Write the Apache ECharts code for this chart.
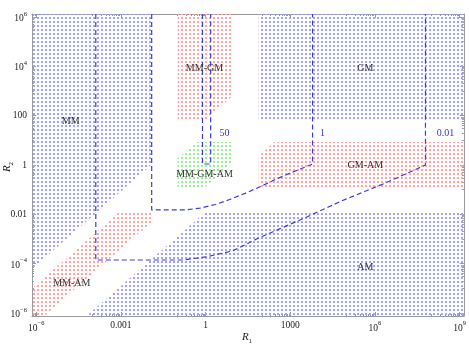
<!DOCTYPE html>
<html><head><meta charset="utf-8">
<script src="https://cdn.jsdelivr.net/npm/echarts@6/dist/echarts.min.js"></script>
<style>html,body{margin:0;padding:0;background:#fff}#c{width:469px;height:344px}</style>
</head><body><div id="c"></div>
<script>
// All coordinates are log10 values: u = log10(R1), v = log10(R2)
const xRange = [-6.15, 9.15];
const yRange = [-6.12, 6.12];
const xMajor = [-6, -3, 0, 3, 6, 9];
const xTickLabels = ['{b|10}{s|\u22126}', '0.001', '1', '1000', '{b|10}{s|6}', '{b|10}{s|9}'];
const yMajor = [-6, -4, -2, 0, 2, 4, 6];
const yTickLabels = ['{b|10}{s|\u22126}', '{b|10}{s|\u22124}', '0.01', '1', '100', '{b|10}{s|4}', '{b|10}{s|6}'];
const minorMultipliers = [1, 2, 3, 4, 5, 6, 7, 8, 9];

// regions (polygon vertices, log10 R1, log10 R2)
const regionMM     = [[-6.15,6.12],[-1.88,6.12],[-1.88,0.05],[-6.15,-4.22]];
const regionMMGM   = [[-0.99,6.12],[0.96,6.12],[0.96,2.8],[0.0,1.82],[-0.99,1.82]];
const regionGM     = [[1.88,6.12],[9.15,6.12],[9.15,1.82],[1.88,1.82]];
const regionMMGMAM = [[-0.33,0.93],[0.92,0.93],[0.92,0.05],[-0.06,-0.93],[-0.99,-0.93],[-0.99,0.27]];
const regionGMAM   = [[2.44,0.93],[9.15,0.93],[9.15,-0.93],[1.88,-0.93],[1.88,0.37]];
const regionMMAM   = [[-3.01,-1.86],[-1.88,-1.86],[-1.88,-2.28],[-5.72,-6.12],[-6.15,-6.12],[-6.15,-5.0]];
const regionAM     = [[0.04,-1.86],[9.15,-1.86],[9.15,-6.12],[-4.22,-6.12]];

// contour curves
const contour50  = [[-0.11,6.12],[-0.11,0.04],[0.18,0.04],[0.18,6.12]];
const contour1   = [[-1.91,6.12],[-1.91,-1.82],[-0.74,-1.82],[-0.2,-1.75],[0.35,-1.6],[0.85,-1.4],[1.4,-1.15],[1.91,-0.89],[2.45,-0.6],[2.97,-0.34],[3.4,-0.14],[3.79,0.04],[3.79,6.12]];
const contour001 = [[-3.89,6.12],[-3.89,-3.85],[-0.81,-3.85],[0.04,-3.72],[0.96,-3.48],[1.81,-3.0],[2.62,-2.59],[3.58,-2.11],[4.81,-1.46],[6.37,-0.73],[7.79,0.0],[7.79,6.12]];

// labels
const regionLabelText = ['MM', 'MM-GM', 'GM', 'MM-GM-AM', 'GM-AM', 'AM', 'MM-AM'];
const regionLabelPos  = [[-4.78,1.78],[-0.04,3.93],[5.66,3.93],[-0.04,-0.40],[5.66,0.0],[5.66,-4.13],[-4.74,-4.78]];
const contourLabelText = ['50', '1', '0.01'];
const contourLabelPos  = [[0.67,1.30],[4.14,1.30],[8.50,1.30]];

const FONT = "'Liberation Serif','Times New Roman',serif";
const TXT = '#222';
const FRAME = '#9a9a9a';
const LINE = '#3c3cdc';

function dotPattern(color) {
  const c = document.createElement('canvas');
  c.width = 4; c.height = 4;
  const ctx = c.getContext('2d');
  ctx.fillStyle = color;
  ctx.fillRect(1, 1, 2, 2);
  return { image: c, repeat: 'repeat' };
}
const patterns = {
  blue: dotPattern('#a2a2ff'),
  red: dotPattern('#ffa4a4'),
  green: dotPattern('#96f096')
};
const regions = [
  { pts: regionMM, color: 'blue' },
  { pts: regionMMGM, color: 'red' },
  { pts: regionGM, color: 'blue' },
  { pts: regionMMGMAM, color: 'green' },
  { pts: regionGMAM, color: 'red' },
  { pts: regionMMAM, color: 'red' },
  { pts: regionAM, color: 'blue' }
];

function minorTicks(majors, range) {
  const out = [];
  majors.forEach(m => minorMultipliers.forEach(k => {
    const t = m - 1 + Math.log10(k);
    if (t >= range[0] && t <= range[1]) out.push(t);
  }));
  return out;
}
const xMinor = minorTicks(xMajor, xRange);
const yMinor = minorTicks(yMajor, yRange);

const rich = {
  b: { fontSize: 9.5, fontFamily: FONT, color: TXT, lineHeight: 13, verticalAlign: 'bottom' },
  s: { fontSize: 6.5, fontFamily: FONT, color: TXT, lineHeight: 6, verticalAlign: 'top' }
};
function fmt(majors, labels) {
  return v => {
    const i = majors.findIndex(e => Math.abs(e - v) < 1e-9);
    return i >= 0 ? labels[i] : '';
  };
}
function mkAxis(dir, pos, majors, minors, range, labels, isMajor) {
  const a = {
    type: 'value', min: range[0], max: range[1], position: pos,
    splitLine: { show: false },
    axisLine: { show: isMajor, onZero: false, lineStyle: { color: FRAME, width: 1 } },
    axisTick: { show: true, inside: true, length: isMajor ? 4 : 2, customValues: isMajor ? majors : minors, lineStyle: { color: FRAME, width: 1 } },
    axisLabel: { show: false }
  };
  if (labels) {
    a.axisLabel = {
      show: true, customValues: majors, formatter: fmt(majors, labels),
      fontSize: 9.5, fontFamily: FONT, color: TXT, rich: rich, margin: dir === 'x' ? 4 : 5
    };
  }
  return a;
}

const chart = echarts.init(document.getElementById('c'), null, { renderer: 'canvas' });
chart.setOption({
  animation: false,
  grid: { left: 32, right: 5, top: 14, bottom: 28, containLabel: false },
  xAxis: [
    mkAxis('x', 'bottom', xMajor, xMinor, xRange, xTickLabels, true),
    mkAxis('x', 'bottom', xMajor, xMinor, xRange, null, false),
    mkAxis('x', 'top', xMajor, xMinor, xRange, null, true),
    mkAxis('x', 'top', xMajor, xMinor, xRange, null, false)
  ],
  yAxis: [
    mkAxis('y', 'left', yMajor, yMinor, yRange, yTickLabels, true),
    mkAxis('y', 'left', yMajor, yMinor, yRange, null, false),
    mkAxis('y', 'right', yMajor, yMinor, yRange, null, true),
    mkAxis('y', 'right', yMajor, yMinor, yRange, null, false)
  ],
  graphic: [
    { type: 'text', x: 247, y: 338, style: { text: '{i|R}{sub|1}', align: 'center', verticalAlign: 'middle',
      rich: { i: { fontSize: 11, fontStyle: 'italic', fontFamily: FONT, fill: TXT, lineHeight: 13, verticalAlign: 'top' },
              sub: { fontSize: 7, fontFamily: FONT, fill: TXT, lineHeight: 6, verticalAlign: 'bottom' } } } },
    { type: 'text', x: 8, y: 167, rotation: Math.PI / 2, style: { text: '{i|R}{sub|2}', align: 'center', verticalAlign: 'middle',
      rich: { i: { fontSize: 11, fontStyle: 'italic', fontFamily: FONT, fill: TXT, lineHeight: 13, verticalAlign: 'top' },
              sub: { fontSize: 7, fontFamily: FONT, fill: TXT, lineHeight: 6, verticalAlign: 'bottom' } } } }
  ],
  series: [
    {
      type: 'custom', xAxisIndex: 0, yAxisIndex: 0, clip: true, silent: true, z: 1,
      data: regions.map((r, i) => [i, 0]),
      renderItem: (params, api) => {
        const r = regions[params.dataIndex];
        return { type: 'polygon', shape: { points: r.pts.map(p => api.coord(p)) }, style: { fill: patterns[r.color] } };
      }
    },
    ...[contour50, contour1, contour001].map(c => ({
      type: 'line', xAxisIndex: 0, yAxisIndex: 0, data: c, showSymbol: false, symbol: 'none', silent: true, z: 3,
      clip: true, lineStyle: { color: LINE, width: 1.2, type: [5, 3] }
    })),
    {
      type: 'custom', xAxisIndex: 0, yAxisIndex: 0, silent: true, z: 5,
      data: regionLabelPos.map((p, i) => [p[0], p[1], i]),
      renderItem: (params, api) => {
        const pt = api.coord([api.value(0), api.value(1)]);
        return { type: 'text', x: pt[0], y: pt[1], style: { text: regionLabelText[api.value(2)], fill: '#333', font: '10px ' + FONT, align: 'center', verticalAlign: 'middle' } };
      }
    },
    {
      type: 'custom', xAxisIndex: 0, yAxisIndex: 0, silent: true, z: 5,
      data: contourLabelPos.map((p, i) => [p[0], p[1], i]),
      renderItem: (params, api) => {
        const pt = api.coord([api.value(0), api.value(1)]);
        return { type: 'text', x: pt[0], y: pt[1], style: { text: contourLabelText[api.value(2)], fill: '#3535c8', font: '10px ' + FONT, align: 'center', verticalAlign: 'middle' } };
      }
    }
  ]
});
</script></body></html>
